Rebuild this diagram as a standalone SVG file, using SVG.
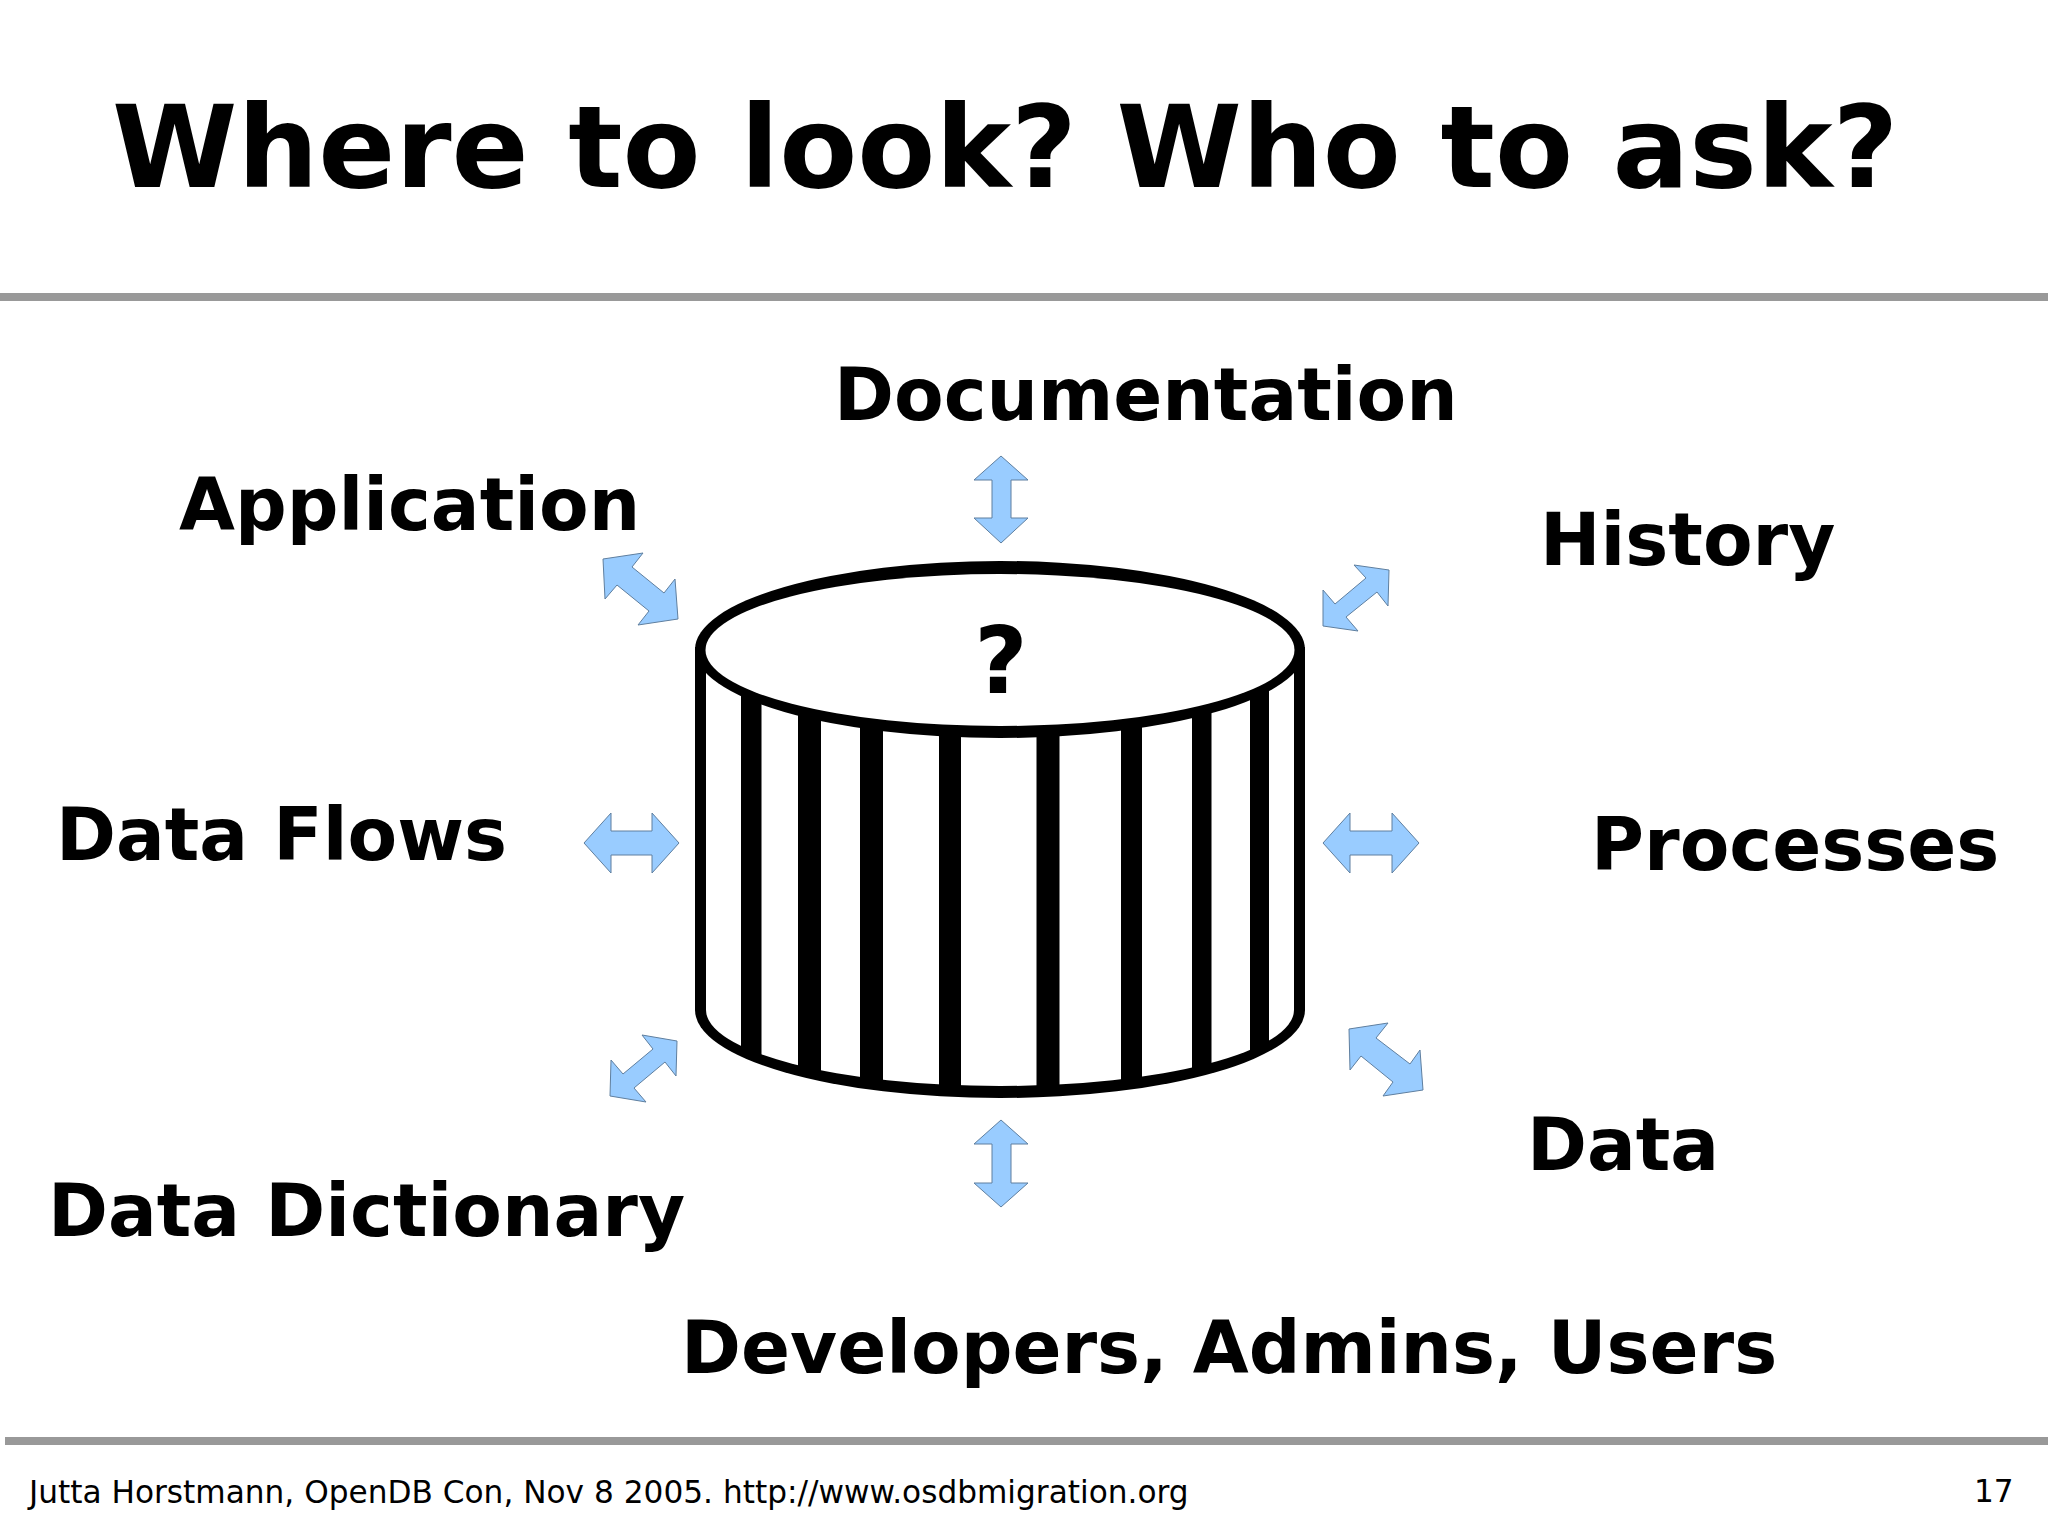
<svg xmlns="http://www.w3.org/2000/svg" width="2048" height="1537" viewBox="0 0 2048 1537">
<style>
text{font-family:"DejaVu Sans",sans-serif;fill:#000}
.b{font-weight:700}
.title{font-size:113.7px}
.lab{font-size:72.3px}
.foot{font-size:31.2px}
.rule{fill:#999}
.arrow{fill:#99ccff;stroke:#5f7f9f;stroke-width:1}
.ink{fill:#000}
.paper{fill:#fff}
</style>
<rect width="2048" height="1537" fill="#fff"/>
<rect class="rule" x="0" y="293" width="2048" height="8"/>
<rect class="rule" x="5" y="1437" width="2043" height="8"/>
<text id="title" class="b title" x="112" y="187">Where to look? Who to ask?</text>
<g id="cylinder">
<path class="ink" d="M695 647V1010A305 88 0 0 0 1305 1010V647Z"/>
<path class="paper" d="M706 647V1010A294 76 0 0 0 1294 1010V647Z"/>
<rect class="ink" x="741" y="690" width="20.500" height="366"/>
<rect class="ink" x="798" y="700" width="23" height="373"/>
<rect class="ink" x="860" y="700" width="23" height="384"/>
<rect class="ink" x="939" y="700" width="22" height="390"/>
<rect class="ink" x="1036.500" y="700" width="23" height="390"/>
<rect class="ink" x="1121" y="700" width="21" height="384"/>
<rect class="ink" x="1192" y="700" width="19.500" height="370"/>
<rect class="ink" x="1250" y="690" width="19" height="361"/>
<ellipse class="ink" cx="1000" cy="649.500" rx="305" ry="88.500"/>
<ellipse class="paper" cx="1000" cy="650" rx="294.500" ry="76"/>
<text id="cylinder-label" class="b" x="1001" y="693" text-anchor="middle" font-size="92">?</text>
</g>
<g id="connectors">
<path class="arrow" d="M1001 456L1028 480H1011V518H1028L1001 543 974 518H992V480H974Z"/>
<path class="arrow" d="M1001 1120L1028 1144H1011V1183H1028L1001 1207 974 1183H992V1144H974Z"/>
<path class="arrow" d="M584 843L611 813V831H652V813L679 843 652 873V855H611V873Z"/>
<path class="arrow" d="M1323 843L1350 813V831H1392V813L1419 843 1392 873V855H1350V873Z"/>
<path class="arrow" d="M603 559L643 553 632 567 664 593 675 579 678 619 638 625 649 611 617 585 605 599Z"/>
<path class="arrow" d="M1389 570L1354 565 1366 578 1335 604 1323 590 1323 626 1358 631 1346 617 1377 592 1388 606Z"/>
<path class="arrow" d="M677 1041L642 1035 653 1049 623 1074 611 1060 610 1096 646 1102 634 1088 665 1062 676 1076Z"/>
<path class="arrow" d="M1349 1029L1388 1023 1376 1038 1410 1064 1420 1050 1423 1090 1383 1096 1393 1082 1361 1056 1350 1070Z"/>
</g>
<g id="documentation"><text class="b lab" x="834" y="420">Documentation</text></g>
<g id="application"><text class="b lab" x="179" y="530">Application</text></g>
<g id="history"><text class="b lab" x="1540" y="565">History</text></g>
<g id="data-flows"><text class="b lab" x="56" y="860">Data Flows</text></g>
<g id="processes"><text class="b lab" x="1591" y="870">Processes</text></g>
<g id="data"><text class="b lab" x="1527" y="1170">Data</text></g>
<g id="data-dictionary"><text class="b lab" x="48" y="1236">Data Dictionary</text></g>
<g id="developers"><text class="b lab" x="681" y="1373">Developers, Admins, Users</text></g>
<text id="footer" class="foot" x="29" y="1503">Jutta Horstmann, OpenDB Con, Nov 8 2005. http://www.osdbmigration.org</text>
<text id="page" class="foot" x="1974" y="1502">17</text>
</svg>
